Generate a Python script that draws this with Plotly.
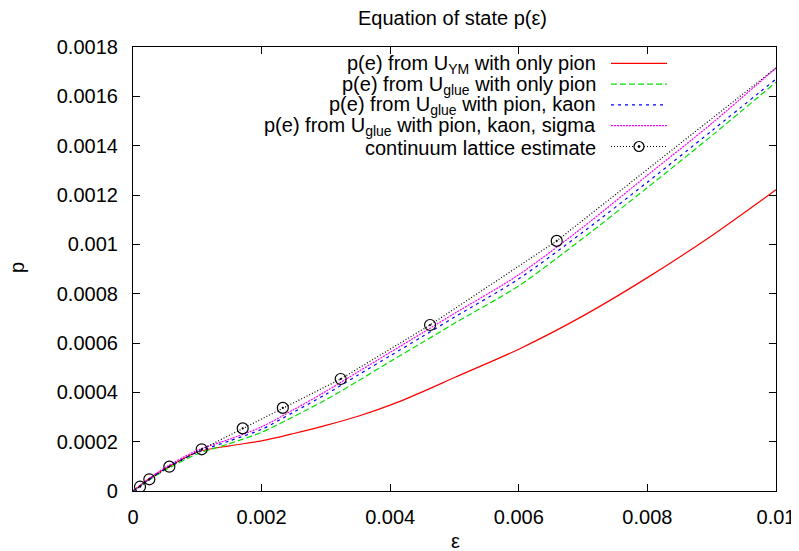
import plotly.graph_objects as go

# ---- data ----
e_grid = [0.0, 0.00025, 0.0005, 0.001, 0.0015, 0.002, 0.0025, 0.003, 0.0035, 0.004, 0.0045, 0.005, 0.006, 0.007, 0.008, 0.009, 0.01]
p_ym_pion = [0.0, 0.00005, 0.00009, 0.000158, 0.000183, 0.000203, 0.000233, 0.000266, 0.000303, 0.000348, 0.000402, 0.00046, 0.000575, 0.00071, 0.000865, 0.001035, 0.001221]
p_glue_pion = [0.0, 0.000045, 0.000085, 0.00015, 0.000192, 0.000238, 0.000302, 0.00037, 0.000446, 0.000525, 0.000602, 0.00068, 0.000832, 0.001025, 0.00123, 0.00144, 0.001657]
p_glue_pion_kaon = [0.0, 0.000047, 0.00009, 0.000157, 0.000203, 0.00025, 0.00032, 0.000392, 0.00047, 0.000548, 0.000626, 0.000705, 0.00086, 0.00105, 0.001252, 0.00146, 0.00167]
p_glue_pion_kaon_sigma = [0.0, 0.00005, 0.000095, 0.000165, 0.00021, 0.00026, 0.00033, 0.000404, 0.000483, 0.000562, 0.000641, 0.00072, 0.000877, 0.00107, 0.00128, 0.00149, 0.001715]

lattice_e = [0.000109, 0.000254, 0.000565, 0.001068, 0.001706, 0.00233, 0.00323, 0.00462, 0.00659]
lattice_p = [0.0000174, 0.0000475, 0.0000986, 0.000169, 0.000254, 0.000337, 0.000454, 0.000673, 0.001014]
lattice_line_e = [0.0] + lattice_e + [0.01]
lattice_line_p = [0.0] + lattice_p + [0.001715]

x_ticks = [0, 0.002, 0.004, 0.006, 0.008, 0.01]
x_ticktext = ["0", "0.002", "0.004", "0.006", "0.008", "0.01"]
y_ticks = [0, 0.0002, 0.0004, 0.0006, 0.0008, 0.001, 0.0012, 0.0014, 0.0016, 0.0018]
y_ticktext = ["0", "0.0002", "0.0004", "0.0006", "0.0008", "0.001", "0.0012", "0.0014", "0.0016", "0.0018"]

legend_labels = [
    "p(e) from U<sub>YM</sub> with only pion",
    "p(e) from U<sub>glue</sub> with only pion",
    "p(e) from U<sub>glue</sub> with pion, kaon",
    "p(e) from U<sub>glue</sub> with pion, kaon, sigma",
    "continuum lattice estimate",
]
colors = ["#ff0000", "#00e000", "#0000ff", "#ff00ff", "#000000"]
dashes = ["solid", "6px,3px", "3px,4px", "2px,1px", "1px,2px"]

FONT = "Liberation Sans, Arial, sans-serif"

fig = go.Figure()
curves = [p_ym_pion, p_glue_pion, p_glue_pion_kaon, p_glue_pion_kaon_sigma]
for ys, c, d in zip(curves, colors[:4], dashes[:4]):
    fig.add_trace(go.Scatter(x=e_grid, y=ys, mode="lines",
                             line=dict(color=c, width=1.2, dash=d, shape="spline", smoothing=0.8),
                             showlegend=False, hoverinfo="skip"))

fig.add_trace(go.Scatter(x=lattice_line_e, y=lattice_line_p, mode="lines",
                         line=dict(color="#000000", width=1.2, dash=dashes[4]),
                         showlegend=False, hoverinfo="skip"))
fig.add_trace(go.Scatter(x=lattice_e, y=lattice_p, mode="markers",
                         marker=dict(symbol="circle-open-dot", size=11, color="#000000",
                                     line=dict(width=1.2, color="#000000")),
                         showlegend=False, hoverinfo="skip"))

# ---- page geometry (the page body has an 8px margin) ----
OFF = 8
PAGE_W, PAGE_H = 799, 551
L, R, T, B = 133, 23, 47, 60          # plot area in page pixels
W, H = PAGE_W - OFF, PAGE_H - OFF
pw, ph = PAGE_W - L - R, PAGE_H - T - B

def px_x(x):
    return (x - L) / pw

def px_y(y):
    return (PAGE_H - B - y) / ph

text_right = px_x(597)
s0, s1 = px_x(611), px_x(667)
annotations = []
shapes = []
for i, (lab, c, d) in enumerate(zip(legend_labels, colors, dashes)):
    yy = 63.3 + 20.8 * i
    annotations.append(dict(x=text_right, y=px_y(yy + 1), xref="paper", yref="paper",
                            text=lab, showarrow=False, xanchor="right", yanchor="middle",
                            borderpad=0,
                            font=dict(family=FONT, size=20, color="#000000")))
    shapes.append(dict(type="line", xref="paper", yref="paper", x0=s0, x1=s1,
                       y0=px_y(yy), y1=px_y(yy),
                       line=dict(color=c, width=1.2, dash=d)))
# legend marker for the lattice estimate
cx, cy = px_x(639), px_y(63.3 + 20.8 * 4)
shapes.append(dict(type="circle", xref="paper", yref="paper", xsizemode="pixel", ysizemode="pixel",
                   xanchor=cx, yanchor=cy, x0=-5, x1=5, y0=-5, y1=5,
                   line=dict(color="#000000", width=1.2), fillcolor="white"))
shapes.append(dict(type="circle", xref="paper", yref="paper", xsizemode="pixel", ysizemode="pixel",
                   xanchor=cx, yanchor=cy, x0=-1, x1=1, y0=-1, y1=1,
                   line=dict(color="#000000", width=1), fillcolor="#000000"))

# axis titles and plot title
annotations.append(dict(x=px_x(17), y=px_y(268), xref="paper", yref="paper", text="p",
                        showarrow=False, textangle=-90, xanchor="center", yanchor="middle",
                        borderpad=0,
                        font=dict(family=FONT, size=20, color="#000000")))
annotations.append(dict(x=px_x(455), y=px_y(541), xref="paper", yref="paper", text="ε",
                        showarrow=False, xanchor="center", yanchor="middle",
                        borderpad=0,
                        font=dict(family=FONT, size=20, color="#000000")))
annotations.append(dict(x=px_x(452), y=px_y(18), xref="paper", yref="paper", text="Equation of state p(ε)",
                        showarrow=False, xanchor="center", yanchor="middle",
                        borderpad=0,
                        font=dict(family=FONT, size=20, color="#000000")))

axis_common = dict(showline=True, linecolor="#000000", linewidth=1.2, mirror="ticks",
                   ticks="inside", ticklen=7, tickwidth=1, tickcolor="#000000",
                   showgrid=False, zeroline=False,
                   tickfont=dict(family=FONT, size=20, color="#000000"))

fig.update_layout(
    width=W, height=H,
    margin=dict(l=L - OFF, r=R, t=T - OFF, b=B, autoexpand=False),
    paper_bgcolor="white", plot_bgcolor="white",
    xaxis=dict(range=[0, 0.01], tickvals=x_ticks, ticktext=x_ticktext, ticklabelstandoff=8, **axis_common),
    yaxis=dict(range=[0, 0.0018], tickvals=y_ticks, ticktext=y_ticktext, ticklabelstandoff=10, **axis_common),
    annotations=annotations,
    shapes=shapes,
    showlegend=False,
)

fig.write_html("out.html")
